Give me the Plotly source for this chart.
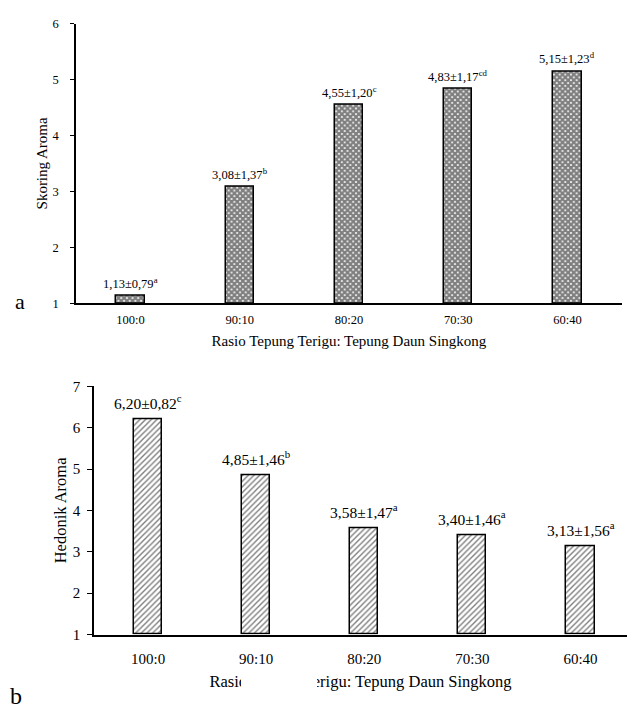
import plotly.graph_objects as go

# Flour ratio (wheat flour : cassava leaf flour)
ratios = ["100:0", "90:10", "80:20", "70:30", "60:40"]

# Panel a: aroma scoring
skor_mean = [1.13, 3.08, 4.55, 4.83, 5.15]
skor_sd = ["0,79", "1,37", "1,20", "1,17", "1,23"]
skor_letter = ["a", "b", "c", "cd", "d"]

# Panel b: aroma hedonic
hed_mean = [6.20, 4.85, 3.58, 3.40, 3.13]
hed_sd = ["0,82", "1,46", "1,47", "1,46", "1,56"]
hed_letter = ["c", "b", "a", "a", "a"]

x_title = "Rasio Tepung Terigu: Tepung Daun Singkong"
FONT = "'Liberation Serif', 'Times New Roman', serif"
W, H = 627, 710


def fmt(v):
    return f"{v:.2f}".replace(".", ",")


fig = go.Figure()

fig.add_trace(go.Bar(
    x=ratios, y=[v - 1 for v in skor_mean], base=1, width=0.26,
    marker=dict(color="white", line=dict(color="black", width=1.5),
                pattern=dict(shape="x", size=4, solidity=0.8, fgcolor="black", bgcolor="white")),
    xaxis="x", yaxis="y", showlegend=False, hoverinfo="skip",
))
fig.add_trace(go.Bar(
    x=ratios, y=[v - 1 for v in hed_mean], base=1, width=0.26,
    marker=dict(color="white", line=dict(color="black", width=1.5),
                pattern=dict(shape="/", size=4, solidity=0.35, fgcolor="black", bgcolor="white")),
    xaxis="x2", yaxis="y2", showlegend=False, hoverinfo="skip",
))

annotations = []
for r, m, s, l in zip(ratios, skor_mean, skor_sd, skor_letter):
    annotations.append(dict(x=r, y=m, xref="x", yref="y", yanchor="bottom", yshift=3,
                            text=f"{fmt(m)}±{s}<sup>{l}</sup>", showarrow=False,
                            font=dict(family=FONT, size=12.5, color="black")))
for r, m, s, l in zip(ratios, hed_mean, hed_sd, hed_letter):
    annotations.append(dict(x=r, y=m, xref="x2", yref="y2", yanchor="bottom", yshift=5,
                            text=f"{fmt(m)}±{s}<sup>{l}</sup>", showarrow=False,
                            font=dict(family=FONT, size=15.5, color="black")))

# panel letters
annotations.append(dict(x=20 / W, y=1 - 300 / H, xref="paper", yref="paper", text="a",
                        xanchor="center", yanchor="middle",
                        showarrow=False, font=dict(family=FONT, size=22, color="black")))
annotations.append(dict(x=16 / W, y=1 - 704 / H, xref="paper", yref="paper", text="b",
                        xanchor="center", yanchor="middle",
                        showarrow=False, font=dict(family=FONT, size=24, color="black")))

# blank patch over part of the lower axis title
annotations.append(dict(x=241 / W, y=1 - 680 / H, xref="paper", yref="paper", text=" ",
                        xanchor="left", yanchor="top", width=76, height=28,
                        bgcolor="white", borderpad=0, borderwidth=0, showarrow=False))

axis_common = dict(showgrid=False, zeroline=False, linecolor="black", linewidth=1.5,
                   showline=True)

fig.update_layout(
    width=W, height=H,
    margin=dict(l=0, r=0, t=0, b=0),
    paper_bgcolor="white", plot_bgcolor="white",
    font=dict(family=FONT, color="black"),
    bargap=0,
    xaxis=dict(**axis_common, domain=[76 / W, 622 / W], range=[-0.5, 4.5], anchor="y",
               ticks="", tickfont=dict(size=12.5), ticklabelstandoff=4,
               title=dict(text=x_title, font=dict(size=15), standoff=10)),
    yaxis=dict(**axis_common, domain=[1 - 302 / H, 1 - 16 / H], range=[1, 6], anchor="x",
               dtick=1, ticks="outside", ticklen=4, tickcolor="black", tickwidth=1.2,
               tickfont=dict(size=12.5), ticklabelstandoff=9,
               title=dict(text="Skoring Aroma", font=dict(size=15), standoff=1)),
    xaxis2=dict(**axis_common, domain=[94 / W, 1], range=[-0.5, 4.43], anchor="y2",
                ticks="", tickfont=dict(size=15), ticklabelstandoff=10,
                title=dict(text=x_title, font=dict(size=16.5), standoff=9)),
    yaxis2=dict(**axis_common, domain=[1 - 641 / H, 1 - 387 / H], range=[1, 7], anchor="x2",
                dtick=1, ticks="outside", ticklen=5, tickcolor="black", tickwidth=1.2,
                tickfont=dict(size=15), ticklabelstandoff=4,
                title=dict(text="Hedonik Aroma", font=dict(size=16.5), standoff=2)),
    annotations=annotations,
)

fig.write_html("out.html")
